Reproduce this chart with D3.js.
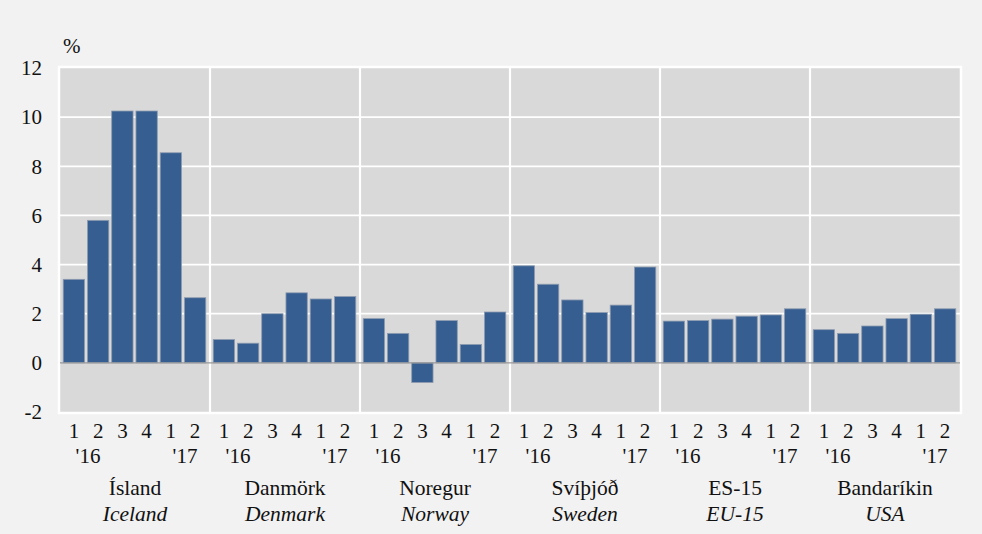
<!DOCTYPE html>
<html><head><meta charset="utf-8">
<script src="https://cdn.jsdelivr.net/npm/d3@7"></script>
<style>
html,body{margin:0;padding:0;background:#f2f2f2;}
svg{display:block;}
</style></head>
<body><svg id="chart" width="982" height="534" font-family="'Liberation Serif', 'Times New Roman', Times, 'DejaVu Serif', serif"></svg>
<script>
const countries = ["Ísland","Danmörk","Noregur","Svíþjóð","ES-15","Bandaríkin"];
const countriesEn = ["Iceland","Denmark","Norway","Sweden","EU-15","USA"];
const quarters = ["1","2","3","4","1","2"];
const yearLabels = ["'16","'17"];
const iceland = [3.4, 5.8, 10.25, 10.25, 8.55, 2.65];
const denmark = [0.95, 0.8, 2.0, 2.85, 2.6, 2.7];
const norway = [1.8, 1.2, -0.8, 1.72, 0.75, 2.07];
const sweden = [3.95, 3.2, 2.56, 2.05, 2.35, 3.9];
const eu15 = [1.7, 1.72, 1.78, 1.9, 1.95, 2.2];
const usa = [1.35, 1.2, 1.5, 1.8, 1.98, 2.2];
const yTicks = [12,10,8,6,4,2,0,-2];

const series = [iceland, denmark, norway, sweden, eu15, usa];
const svg = d3.select("#chart");
const L = 60, R = 960, T = 68, B = 412;
const ink = "#111111";

const y = d3.scaleLinear().domain([-2,12]).range([B,T]);
const gx = d3.scaleBand().domain(countries).range([L,R]).padding(0);
const bx = d3.scaleBand().domain(d3.range(6)).range([2, gx.bandwidth()-3]).paddingInner(0.12).paddingOuter(0.05);

svg.append("rect").attr("x",L-1).attr("y",T-1).attr("width",R-L+2).attr("height",B-T+2)
  .attr("fill","#d9d9d9").attr("stroke","#ffffff").attr("stroke-width",2.5);

svg.append("g").selectAll("line").data(yTicks.filter(d=>d!==0 && d!==12 && d!==-2)).join("line")
  .attr("x1",L).attr("x2",R).attr("y1",d=>y(d)).attr("y2",d=>y(d))
  .attr("stroke","#ffffff").attr("stroke-width",1.8);

svg.append("g").selectAll("line").data(countries.slice(1)).join("line")
  .attr("x1",d=>gx(d)).attr("x2",d=>gx(d)).attr("y1",T).attr("y2",B)
  .attr("stroke","#ffffff").attr("stroke-width",2.2);

countries.forEach((c,i)=>{
  const g = svg.append("g").attr("transform",`translate(${gx(c)},0)`);
  g.selectAll("rect").data(series[i]).join("rect")
    .attr("x",(d,j)=>bx(j)).attr("width",bx.bandwidth())
    .attr("y",d=>y(Math.max(0,d))).attr("height",d=>Math.abs(y(d)-y(0)))
    .attr("fill","#365e90").attr("stroke","#8e9cb0").attr("stroke-width",0.8);
  g.selectAll("text.q").data(quarters).join("text").attr("class","q")
    .attr("x",(d,j)=>bx(j)+bx.bandwidth()/2).attr("y",438).attr("fill",ink)
    .attr("text-anchor","middle").attr("font-size",21).text(d=>d);
  g.append("text").attr("x",(bx(0)+bx(1)+bx.bandwidth())/2+2).attr("y",463).attr("fill",ink)
    .attr("text-anchor","middle").attr("font-size",21).text(yearLabels[0]);
  g.append("text").attr("x",(bx(4)+bx(5)+bx.bandwidth())/2+2).attr("y",463).attr("fill",ink)
    .attr("text-anchor","middle").attr("font-size",21).text(yearLabels[1]);
  g.append("text").attr("x",gx.bandwidth()/2).attr("y",495).attr("fill",ink)
    .attr("text-anchor","middle").attr("font-size",21.5).text(c);
  g.append("text").attr("x",gx.bandwidth()/2).attr("y",521).attr("fill",ink)
    .attr("text-anchor","middle").attr("font-size",21.5).attr("font-style","italic").text(countriesEn[i]);
});

svg.append("line").attr("x1",L).attr("x2",R).attr("y1",y(0)).attr("y2",y(0))
  .attr("stroke","#999999").attr("stroke-width",1.3);

svg.append("g").selectAll("text").data(yTicks).join("text")
  .attr("x",42).attr("y",d=>y(d)).attr("dy","0.35em").attr("text-anchor","end").attr("fill",ink)
  .attr("font-size",21).text(d=>d);
svg.append("text").attr("x",63).attr("y",53).attr("font-size",21).attr("fill",ink).text("%");
</script></body></html>
